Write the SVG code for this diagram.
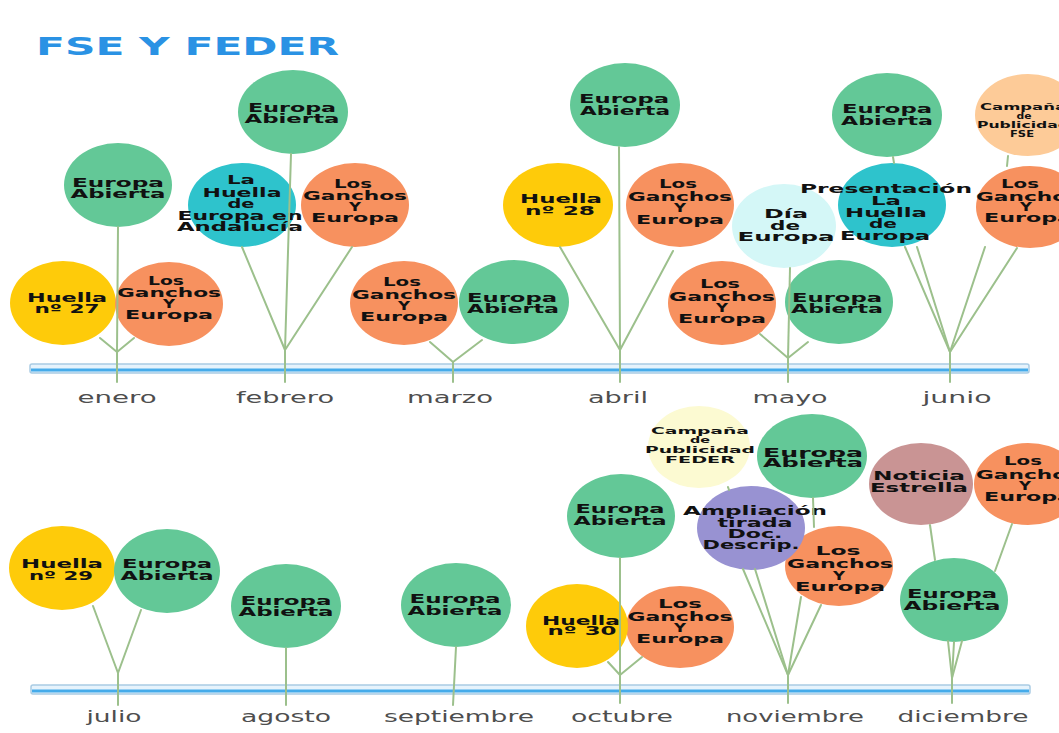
<svg xmlns="http://www.w3.org/2000/svg" width="1059" height="733" viewBox="0 0 1059 733">
<style>
.g{fill:#63c897}.o{fill:#f7915f}.y{fill:#fecb0a}.c{fill:#2ec3cc}.lc{fill:#d4f7f7}.pe{fill:#fdcb98}.py{fill:#fcfad2}.pu{fill:#9892d2}.ma{fill:#c99494}
.t{font-family:"DejaVu Sans","Liberation Sans",sans-serif;font-weight:bold;font-size:12.5px;fill:#111;text-anchor:middle}
.s{font-size:9px}
.m{font-family:"DejaVu Sans","Liberation Sans",sans-serif;font-size:16px;fill:#4e4e4e;text-anchor:middle}
.bar{fill:#e6f3fc;stroke:#a9cbe3;stroke-width:1.5}
.barl{stroke:#45abea;stroke-width:3}
#connectors line{stroke:#9cc08c;stroke-width:2;stroke-linecap:round}
</style>
<rect width="1059" height="733" fill="#ffffff"/>
<text x="36" y="55" textLength="303" lengthAdjust="spacingAndGlyphs" style="font-family:'DejaVu Sans','Liberation Sans',sans-serif;font-weight:bold;font-size:25px;fill:#2a92e4">FSE Y FEDER</text>
<g id="timelines">
<rect class="bar" x="30" y="364" width="999" height="9" rx="2"/>
<line class="barl" x1="31" y1="370" x2="1028" y2="370"/>
<rect class="bar" x="31" y="685" width="999" height="9" rx="2"/>
<line class="barl" x1="32" y1="691" x2="1029" y2="691"/>
</g>
<g id="months">
<text class="m" x="117" y="403" textLength="79" lengthAdjust="spacingAndGlyphs">enero</text>
<text class="m" x="285" y="403" textLength="98" lengthAdjust="spacingAndGlyphs">febrero</text>
<text class="m" x="450" y="403" textLength="86" lengthAdjust="spacingAndGlyphs">marzo</text>
<text class="m" x="618" y="403" textLength="60" lengthAdjust="spacingAndGlyphs">abril</text>
<text class="m" x="790" y="403" textLength="75" lengthAdjust="spacingAndGlyphs">mayo</text>
<text class="m" x="957" y="403" textLength="69" lengthAdjust="spacingAndGlyphs">junio</text>
<text class="m" x="114" y="722" textLength="55" lengthAdjust="spacingAndGlyphs">julio</text>
<text class="m" x="286" y="722" textLength="90" lengthAdjust="spacingAndGlyphs">agosto</text>
<text class="m" x="459" y="722" textLength="150" lengthAdjust="spacingAndGlyphs">septiembre</text>
<text class="m" x="622" y="722" textLength="102" lengthAdjust="spacingAndGlyphs">octubre</text>
<text class="m" x="795" y="722" textLength="138" lengthAdjust="spacingAndGlyphs">noviembre</text>
<text class="m" x="963" y="722" textLength="131" lengthAdjust="spacingAndGlyphs">diciembre</text>
</g>

<g id="ene_ea"><ellipse class="g" cx="118" cy="185" rx="54" ry="42"/><text class="t" x="118" y="187" textLength="92" lengthAdjust="spacingAndGlyphs">Europa</text><text class="t" x="118" y="198" textLength="95" lengthAdjust="spacingAndGlyphs">Abierta</text></g>
<g id="ene_h27"><ellipse class="y" cx="63" cy="303" rx="53" ry="42"/><text class="t" x="67" y="302" textLength="80" lengthAdjust="spacingAndGlyphs">Huella</text><text class="t" x="67" y="313" textLength="65" lengthAdjust="spacingAndGlyphs">nº 27</text></g>
<g id="ene_lg"><ellipse class="o" cx="169" cy="304" rx="54" ry="42"/><text class="t" x="166" y="285" textLength="36" lengthAdjust="spacingAndGlyphs">Los</text><text class="t" x="169" y="297" textLength="104" lengthAdjust="spacingAndGlyphs">Ganchos</text><text class="t" x="169" y="308" textLength="12" lengthAdjust="spacingAndGlyphs">Y</text><text class="t" x="169" y="319" textLength="88" lengthAdjust="spacingAndGlyphs">Europa</text></g>

<g id="feb_ea"><ellipse class="g" cx="293" cy="112" rx="55" ry="42"/><text class="t" x="292" y="112" textLength="88" lengthAdjust="spacingAndGlyphs">Europa</text><text class="t" x="292" y="123" textLength="95" lengthAdjust="spacingAndGlyphs">Abierta</text></g>
<g id="feb_lh"><ellipse class="c" cx="242" cy="205" rx="54" ry="42"/><text class="t" x="241" y="184" textLength="28" lengthAdjust="spacingAndGlyphs">La</text><text class="t" x="242" y="197" textLength="79" lengthAdjust="spacingAndGlyphs">Huella</text><text class="t" x="241" y="208" textLength="27" lengthAdjust="spacingAndGlyphs">de</text><text class="t" x="240" y="220" textLength="125" lengthAdjust="spacingAndGlyphs">Europa en</text><text class="t" x="240" y="231" textLength="126" lengthAdjust="spacingAndGlyphs">Andalucía</text></g>
<g id="feb_lg"><ellipse class="o" cx="355" cy="205" rx="54" ry="42"/><text class="t" x="353" y="188" textLength="38" lengthAdjust="spacingAndGlyphs">Los</text><text class="t" x="355" y="200" textLength="104" lengthAdjust="spacingAndGlyphs">Ganchos</text><text class="t" x="355" y="211" textLength="12" lengthAdjust="spacingAndGlyphs">Y</text><text class="t" x="355" y="222" textLength="88" lengthAdjust="spacingAndGlyphs">Europa</text></g>

<g id="mar_lg"><ellipse class="o" cx="404" cy="303" rx="54" ry="42"/><text class="t" x="402" y="286" textLength="38" lengthAdjust="spacingAndGlyphs">Los</text><text class="t" x="404" y="299" textLength="104" lengthAdjust="spacingAndGlyphs">Ganchos</text><text class="t" x="404" y="310" textLength="12" lengthAdjust="spacingAndGlyphs">Y</text><text class="t" x="404" y="321" textLength="88" lengthAdjust="spacingAndGlyphs">Europa</text></g>
<g id="mar_ea"><ellipse class="g" cx="514" cy="302" rx="55" ry="42"/><text class="t" x="512" y="302" textLength="90" lengthAdjust="spacingAndGlyphs">Europa</text><text class="t" x="513" y="313" textLength="92" lengthAdjust="spacingAndGlyphs">Abierta</text></g>

<g id="abr_ea"><ellipse class="g" cx="625" cy="105" rx="55" ry="42"/><text class="t" x="624" y="103" textLength="90" lengthAdjust="spacingAndGlyphs">Europa</text><text class="t" x="625" y="115" textLength="90" lengthAdjust="spacingAndGlyphs">Abierta</text></g>
<g id="abr_h28"><ellipse class="y" cx="558" cy="205" rx="55" ry="42"/><text class="t" x="561" y="203" textLength="82" lengthAdjust="spacingAndGlyphs">Huella</text><text class="t" x="560" y="215" textLength="70" lengthAdjust="spacingAndGlyphs">nº 28</text></g>
<g id="abr_lg"><ellipse class="o" cx="680" cy="205" rx="54" ry="42"/><text class="t" x="678" y="188" textLength="38" lengthAdjust="spacingAndGlyphs">Los</text><text class="t" x="680" y="201" textLength="104" lengthAdjust="spacingAndGlyphs">Ganchos</text><text class="t" x="680" y="212" textLength="12" lengthAdjust="spacingAndGlyphs">Y</text><text class="t" x="680" y="224" textLength="88" lengthAdjust="spacingAndGlyphs">Europa</text></g>

<g id="may_dia"><ellipse class="lc" cx="784" cy="226" rx="52" ry="42"/><text class="t" x="786" y="218" textLength="44" lengthAdjust="spacingAndGlyphs">Día</text><text class="t" x="785" y="230" textLength="30" lengthAdjust="spacingAndGlyphs">de</text><text class="t" x="786" y="241" textLength="97" lengthAdjust="spacingAndGlyphs">Europa</text></g>
<g id="may_lg"><ellipse class="o" cx="722" cy="303" rx="54" ry="42"/><text class="t" x="720" y="288" textLength="40" lengthAdjust="spacingAndGlyphs">Los</text><text class="t" x="722" y="301" textLength="106" lengthAdjust="spacingAndGlyphs">Ganchos</text><text class="t" x="722" y="312" textLength="12" lengthAdjust="spacingAndGlyphs">Y</text><text class="t" x="722" y="323" textLength="88" lengthAdjust="spacingAndGlyphs">Europa</text></g>
<g id="may_ea"><ellipse class="g" cx="839" cy="302" rx="54" ry="42"/><text class="t" x="837" y="302" textLength="90" lengthAdjust="spacingAndGlyphs">Europa</text><text class="t" x="837" y="313" textLength="92" lengthAdjust="spacingAndGlyphs">Abierta</text></g>

<g id="jun_ea"><ellipse class="g" cx="887" cy="115" rx="55" ry="42"/><text class="t" x="887" y="113" textLength="90" lengthAdjust="spacingAndGlyphs">Europa</text><text class="t" x="887" y="125" textLength="92" lengthAdjust="spacingAndGlyphs">Abierta</text></g>
<g id="jun_pres"><ellipse class="c" cx="892" cy="205" rx="54" ry="42"/><text class="t" x="886" y="193" textLength="172" lengthAdjust="spacingAndGlyphs">Presentación</text><text class="t" x="886" y="205" textLength="30" lengthAdjust="spacingAndGlyphs">La</text><text class="t" x="886" y="217" textLength="82" lengthAdjust="spacingAndGlyphs">Huella</text><text class="t" x="883" y="228" textLength="28" lengthAdjust="spacingAndGlyphs">de</text><text class="t" x="885" y="240" textLength="90" lengthAdjust="spacingAndGlyphs">Europa</text></g>
<g id="jun_fse"><ellipse class="pe" cx="1028" cy="115" rx="53" ry="41"/><text class="t s" x="1023" y="110" textLength="86" lengthAdjust="spacingAndGlyphs">Campaña</text><text class="t s" x="1024" y="119" textLength="15" lengthAdjust="spacingAndGlyphs">de</text><text class="t s" x="1023" y="128" textLength="92" lengthAdjust="spacingAndGlyphs">Publicidad</text><text class="t s" x="1022" y="137" textLength="24" lengthAdjust="spacingAndGlyphs">FSE</text></g>
<g id="jun_lg"><ellipse class="o" cx="1030" cy="207" rx="54" ry="41"/><text class="t" x="1020" y="188" textLength="38" lengthAdjust="spacingAndGlyphs">Los</text><text class="t" x="1028" y="201" textLength="104" lengthAdjust="spacingAndGlyphs">Ganchos</text><text class="t" x="1026" y="211" textLength="12" lengthAdjust="spacingAndGlyphs">Y</text><text class="t" x="1028" y="222" textLength="88" lengthAdjust="spacingAndGlyphs">Europa</text></g>

<g id="jul_h29"><ellipse class="y" cx="62" cy="568" rx="53" ry="42"/><text class="t" x="62" y="568" textLength="82" lengthAdjust="spacingAndGlyphs">Huella</text><text class="t" x="61" y="580" textLength="64" lengthAdjust="spacingAndGlyphs">nº 29</text></g>
<g id="jul_ea"><ellipse class="g" cx="167" cy="571" rx="53" ry="42"/><text class="t" x="167" y="568" textLength="90" lengthAdjust="spacingAndGlyphs">Europa</text><text class="t" x="167" y="580" textLength="93" lengthAdjust="spacingAndGlyphs">Abierta</text></g>
<g id="ago_ea"><ellipse class="g" cx="286" cy="606" rx="55" ry="42"/><text class="t" x="286" y="605" textLength="91" lengthAdjust="spacingAndGlyphs">Europa</text><text class="t" x="286" y="616" textLength="95" lengthAdjust="spacingAndGlyphs">Abierta</text></g>
<g id="sep_ea"><ellipse class="g" cx="456" cy="605" rx="55" ry="42"/><text class="t" x="455" y="603" textLength="91" lengthAdjust="spacingAndGlyphs">Europa</text><text class="t" x="455" y="615" textLength="95" lengthAdjust="spacingAndGlyphs">Abierta</text></g>

<g id="oct_ea"><ellipse class="g" cx="621" cy="516" rx="54" ry="42"/><text class="t" x="620" y="513" textLength="89" lengthAdjust="spacingAndGlyphs">Europa</text><text class="t" x="620" y="525" textLength="93" lengthAdjust="spacingAndGlyphs">Abierta</text></g>
<g id="oct_lg"><ellipse class="o" cx="680" cy="627" rx="54" ry="41"/><text class="t" x="680" y="608" textLength="44" lengthAdjust="spacingAndGlyphs">Los</text><text class="t" x="680" y="621" textLength="105" lengthAdjust="spacingAndGlyphs">Ganchos</text><text class="t" x="680" y="632" textLength="12" lengthAdjust="spacingAndGlyphs">Y</text><text class="t" x="680" y="643" textLength="88" lengthAdjust="spacingAndGlyphs">Europa</text></g>
<g id="oct_h30"><ellipse class="y" cx="577" cy="626" rx="51" ry="42"/><text class="t" x="581" y="625" textLength="78" lengthAdjust="spacingAndGlyphs">Huella</text><text class="t" x="582" y="635" textLength="69" lengthAdjust="spacingAndGlyphs">nº 30</text></g>

<g id="nov_feder"><ellipse class="py" cx="699" cy="447" rx="51" ry="41"/><text class="t s" x="700" y="434" textLength="98" lengthAdjust="spacingAndGlyphs">Campaña</text><text class="t s" x="700" y="443" textLength="20" lengthAdjust="spacingAndGlyphs">de</text><text class="t s" x="700" y="453" textLength="110" lengthAdjust="spacingAndGlyphs">Publicidad</text><text class="t s" x="700" y="463" textLength="70" lengthAdjust="spacingAndGlyphs">FEDER</text></g>
<g id="nov_ea"><ellipse class="g" cx="812" cy="456" rx="55" ry="42"/><text class="t" x="813" y="457" textLength="100" lengthAdjust="spacingAndGlyphs">Europa</text><text class="t" x="813" y="467" textLength="100" lengthAdjust="spacingAndGlyphs">Abierta</text></g>
<g id="nov_lg"><ellipse class="o" cx="839" cy="566" rx="54" ry="40"/><text class="t" x="838" y="555" textLength="45" lengthAdjust="spacingAndGlyphs">Los</text><text class="t" x="840" y="568" textLength="106" lengthAdjust="spacingAndGlyphs">Ganchos</text><text class="t" x="839" y="580" textLength="12" lengthAdjust="spacingAndGlyphs">Y</text><text class="t" x="840" y="591" textLength="90" lengthAdjust="spacingAndGlyphs">Europa</text></g>
<g id="nov_amp"><ellipse class="pu" cx="751" cy="528" rx="54" ry="42"/><text class="t" x="755" y="515" textLength="144" lengthAdjust="spacingAndGlyphs">Ampliación</text><text class="t" x="755" y="527" textLength="75" lengthAdjust="spacingAndGlyphs">tirada</text><text class="t" x="755" y="538" textLength="55" lengthAdjust="spacingAndGlyphs">Doc.</text><text class="t" x="751" y="549" textLength="97" lengthAdjust="spacingAndGlyphs">Descrip.</text></g>

<g id="dic_not"><ellipse class="ma" cx="921" cy="484" rx="52" ry="41"/><text class="t" x="919" y="480" textLength="92" lengthAdjust="spacingAndGlyphs">Noticia</text><text class="t" x="919" y="492" textLength="98" lengthAdjust="spacingAndGlyphs">Estrella</text></g>
<g id="dic_lg"><ellipse class="o" cx="1028" cy="484" rx="54" ry="41"/><text class="t" x="1023" y="465" textLength="38" lengthAdjust="spacingAndGlyphs">Los</text><text class="t" x="1028" y="479" textLength="104" lengthAdjust="spacingAndGlyphs">Ganchos</text><text class="t" x="1025" y="490" textLength="12" lengthAdjust="spacingAndGlyphs">Y</text><text class="t" x="1028" y="501" textLength="88" lengthAdjust="spacingAndGlyphs">Europa</text></g>
<g id="dic_ea"><ellipse class="g" cx="954" cy="600" rx="54" ry="42"/><text class="t" x="952" y="598" textLength="90" lengthAdjust="spacingAndGlyphs">Europa</text><text class="t" x="952" y="610" textLength="97" lengthAdjust="spacingAndGlyphs">Abierta</text></g>

<g id="connectors">
<line x1="118" y1="227" x2="117" y2="352"/><line x1="100" y1="338" x2="117" y2="352"/><line x1="134" y1="338" x2="117" y2="352"/><line x1="117" y1="352" x2="117" y2="382"/>
<line x1="291" y1="154" x2="285" y2="350"/><line x1="242" y1="247" x2="285" y2="350"/><line x1="352" y1="247" x2="285" y2="350"/><line x1="285" y1="350" x2="285" y2="382"/>
<line x1="430" y1="342" x2="453" y2="362"/><line x1="482" y1="340" x2="453" y2="362"/><line x1="453" y1="362" x2="453" y2="382"/>
<line x1="619" y1="147" x2="620" y2="350"/><line x1="560" y1="247" x2="620" y2="350"/><line x1="673" y1="251" x2="620" y2="350"/><line x1="620" y1="350" x2="620" y2="382"/>
<line x1="760" y1="334" x2="788" y2="358"/><line x1="808" y1="342" x2="788" y2="358"/><line x1="790" y1="268" x2="788" y2="358"/><line x1="788" y1="358" x2="788" y2="382"/>
<line x1="893" y1="157" x2="894" y2="163"/><line x1="1008" y1="156" x2="1007" y2="166"/><line x1="905" y1="247" x2="950" y2="352"/><line x1="917" y1="247" x2="950" y2="352"/><line x1="985" y1="247" x2="950" y2="352"/><line x1="1017" y1="248" x2="950" y2="352"/><line x1="950" y1="352" x2="950" y2="382"/>
<line x1="93" y1="606" x2="118" y2="673"/><line x1="141" y1="610" x2="118" y2="673"/><line x1="118" y1="673" x2="118" y2="705"/>
<line x1="286" y1="648" x2="286" y2="705"/>
<line x1="456" y1="647" x2="453" y2="705"/>
<line x1="620" y1="558" x2="620" y2="675"/><line x1="608" y1="662" x2="620" y2="675"/><line x1="642" y1="657" x2="620" y2="675"/><line x1="620" y1="675" x2="620" y2="703"/>
<line x1="728" y1="487" x2="729" y2="490"/><line x1="813" y1="498" x2="814" y2="527"/><line x1="743" y1="569" x2="788" y2="675"/><line x1="755" y1="569" x2="788" y2="675"/><line x1="801" y1="597" x2="788" y2="675"/><line x1="821" y1="605" x2="788" y2="675"/><line x1="788" y1="675" x2="788" y2="703"/>
<line x1="930" y1="525" x2="935" y2="560"/><line x1="1012" y1="524" x2="995" y2="571"/><line x1="948" y1="641" x2="952" y2="678"/><line x1="954" y1="642" x2="952" y2="678"/><line x1="962" y1="641" x2="952" y2="678"/><line x1="952" y1="678" x2="952" y2="703"/>
</g>
</svg>
